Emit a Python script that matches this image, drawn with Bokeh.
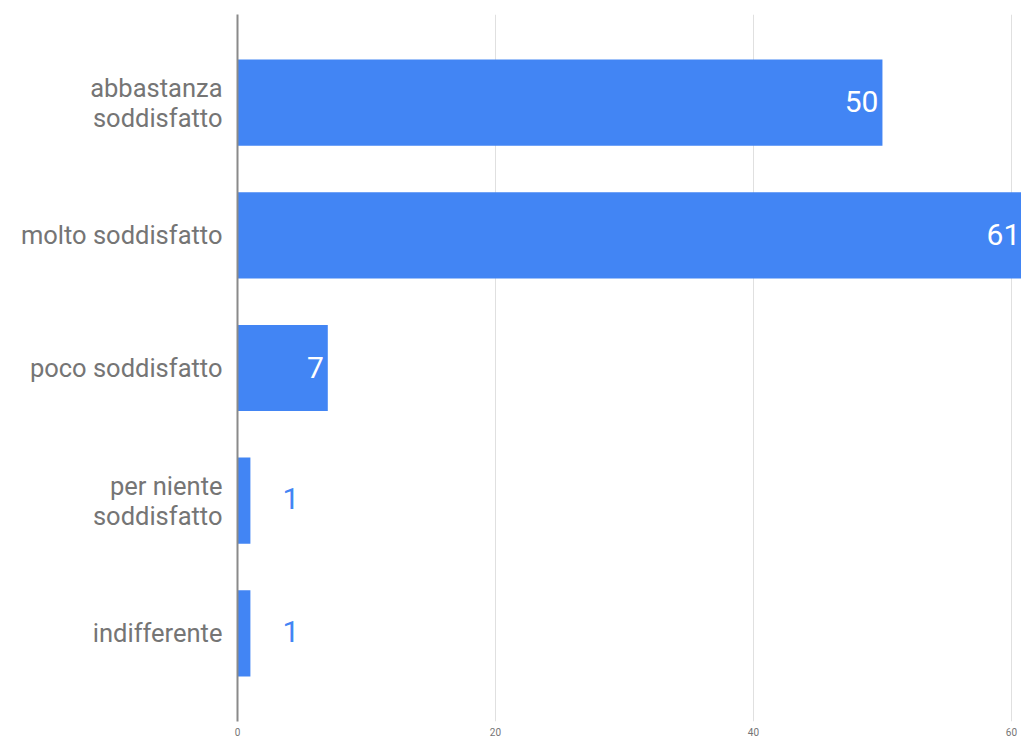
from bokeh.plotting import figure
from bokeh.models import FactorRange, Range1d, ColumnDataSource, FixedTicker
from bokeh.core.properties import value
from bokeh.embed import file_html
from bokeh.resources import INLINE

categories = ["abbastanza\nsoddisfatto", "molto soddisfatto", "poco soddisfatto",
              "per niente\nsoddisfatto", "indifferente"]
counts = [50, 61, 7, 1, 1]
x_ticks = [0, 20, 40, 60]

BLUE = "#4285f4"

p = figure(width=1021, height=738, output_backend="svg", toolbar_location=None,
           y_range=FactorRange(factors=categories[::-1], range_padding=0.066),
           x_range=Range1d(0, 60.78),
           min_border_left=237, min_border_right=0, min_border_top=14, min_border_bottom=16)
p.outline_line_color = None

src = ColumnDataSource(dict(cat=categories, val=counts))
p.hbar(y="cat", right="val", left=0, height=0.65, source=src,
       fill_color=BLUE, line_color=BLUE, line_width=0)

inside_c = [c for c, v in zip(categories, counts) if v >= 5]
inside_v = [v for v in counts if v >= 5]
outside_c = [c for c, v in zip(categories, counts) if v < 5]
outside_v = [v for v in counts if v < 5]

p.text(x=inside_v, y=inside_c, text=[str(v) for v in inside_v],
       text_align="right", text_baseline="middle", x_offset=-4, y_offset=-1,
       text_color="white", text_font=value("Roboto"), text_font_size="30px")
p.text(x=outside_v, y=outside_c, text=[str(v) for v in outside_v],
       text_align="left", text_baseline="middle", x_offset=32, y_offset=-2,
       text_color=BLUE, text_font=value("Roboto"), text_font_size="30px")

p.xaxis.ticker = FixedTicker(ticks=x_ticks)
p.xaxis.axis_line_color = None
p.xaxis.major_tick_line_color = None
p.xaxis.major_tick_out = 0
p.xaxis.major_tick_in = 0
p.xaxis.minor_tick_line_color = None
p.xaxis.minor_tick_out = 0
p.xaxis.major_label_text_font = "Roboto"
p.xaxis.major_label_text_font_size = "10px"
p.xaxis.major_label_text_color = "#757575"
p.xaxis.major_label_standoff = 6

p.yaxis.axis_line_color = "#8a8a8a"
p.yaxis.axis_line_width = 2
p.yaxis.major_tick_line_color = None
p.yaxis.minor_tick_line_color = None
p.yaxis.major_label_text_font = "Roboto"
p.yaxis.major_label_text_font_size = "25.5px"
p.yaxis.major_label_text_color = "#757575"
p.yaxis.major_label_standoff = 9
p.yaxis.major_label_text_line_height = 1.0

p.ygrid.grid_line_color = None
p.xgrid.grid_line_color = "#e0e0e0"

open("out.html", "w").write(file_html(p, INLINE))
